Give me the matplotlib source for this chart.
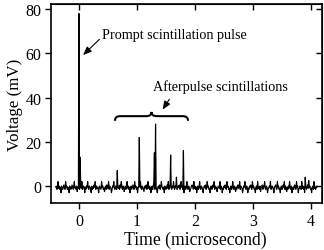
import matplotlib
matplotlib.use("Agg")
import matplotlib.pyplot as plt
import numpy as np
from matplotlib.path import Path
from matplotlib.patches import PathPatch

plt.rcParams["font.family"] = ["Liberation Serif", "DejaVu Serif"]

# sample grid of the trace (microsecond)
t_start, t_stop, n_samples = -0.4, 4.1, 451

# scope baseline offset (mV)
baseline_mv = 0.5

# baseline noise (mV), one value per sample
noise_mv = [
    -1, -0.5, -2, -1, 1.5, -1.5, -0.5, -2, -1, -3.5, -0.5, -1.5, -2, -1, 0, -1.5, -2, 1.5, -1, -0.5,
    -2, -1, -1.5, -3.5, -0.5, -1, -2, -1.5, 0, -1, -2, -0.5, 1.5, -1.5, -1, -2, -0.5, -3, -1, -1.5,
    -0.5, -2, -1, 0, -1.5, 1.5, -2, -1, -0.5, -1.5, -3.5, -1, -2, -0.5, -1, 1.5, -1.5, -2, -0.5, -1,
    -1.5, -3.5, -0.5, -2, -1, -1.5, 0, -1, 1.5, -2, -0.5, -1.5, -1, -2, -3.5, -0.5, -1, -1.5, -2, 1.5,
    -1, -0.5, -2, -1.5, -3, -1, -0.5, -2, 0, -1.5, -1, 1.5, -2, -0.5, -1, -1.5, -3.5, -2, -0.5, -1,
    1.5, -1.5, -2, -0.5, -1, -2, -3.5, -1, -1.5, -0.5, -2, 0, -1, 1.5, -1.5, -2, -0.5, -1, -3, -1.5,
    -0.5, -2, -1, 1.5, -1.5, -0.5, -2, -1, -3.5, -1.5, -0.5, -2, -1, 0, -1.5, -2, 1.5, -1, -0.5, -2,
    -1, -3.5, -1.5, -0.5, -2, -1, 1.5, -1.5, -2, -0.5, -1, -2, -3, -1, -0.5, -1.5, 0, -2, -1, 1.5,
    -1.5, -0.5, -2, -1, -3.5, -1.5, -0.5, -2, -1, 1.5, -1.5, -2, -0.5, -1, -2, -3.5, -1, -0.5, -1.5, 0,
    -2, -1, 1.5, -0.5, -1.5, -2, -1, -3.5, -0.5, -1.5, -2, -1, 0, -1.5, 1.5, -2, -0.5, -1, -3, -1.5,
    -2, -0.5, -1, 1.5, -1.5, -2, -0.5, -1, -3.5, -2, -1.5, -0.5, -1, 0, -2, -1.5, 1.5, -1, -0.5, -2,
    -1, -3.5, -1.5, -0.5, -2, -1, 1.5, -1.5, -2, -0.5, -1, -3, -2, -1.5, -0.5, 0, -1, -2, 1.5, -1.5,
    -0.5, -2, -1, -3.5, -1.5, -0.5, -2, -1, 1.5, -1.5, -2, -0.5, -1, -2, -3.5, -1.5, -0.5, -1, 0, -2,
    -1.5, 1.5, -1, -0.5, -2, -1.5, -3.5, -1, -0.5, -2, -1.5, 0, -1, 1.5, -2, -0.5, -1.5, -1, -3, -2,
    -0.5, -1, -1.5, 1.5, -2, -0.5, -1, -3.5, -1.5, -2, -0.5, -1, 0, -1.5, -2, 1.5, -1, -0.5, -2, -1.5,
    -3.5, -1, -0.5, -2, -1.5, 1.5, -1, -2, -0.5, -1.5, -3, -1, -2, -0.5, 0, -1.5, -1, 1.5, -2, -0.5,
    -1, -1.5, -3.5, -2, -0.5, -1, 1.5, -1.5, -2, -0.5, -1, -3.5, -1.5, -2, -0.5, -1, 0, -1.5, -2, 1.5,
    -1, -0.5, -2, -1.5, -3.5, -1, -0.5, -2, 1.5, -1.5, -1, -2, -0.5, -3, -1.5, -1, 0, -2, -0.5, -1,
    1.5, -1.5, -2, -0.5, -1, -3.5, -2, -1.5, -0.5, -1, 1.5, -2, -1.5, -0.5, -1, -2, -3.5, -1, -0.5, 0,
    -1.5, -2, 1.5, -1, -0.5, -2, -1.5, -3.5, -1, -0.5, -2, -1.5, 0, -1, 1.5, -2, -0.5, -1.5, -3, -1,
    -2, -0.5, -1.5, 1.5, -1, -2, -0.5, -3.5, -1.5, -1, -2, -0.5, 0, -1.5, -2, 1.5, -1, -0.5, -3.5, -2,
    -1.5, -0.5, -1, -2, 1.5, -1.5, -0.5, -2, -1, -3.5, -1.5, -0.5, -2, -1, 0, -1.5, 2, -1, -0.5, -2,
    -1.5, -3.5, -1, -0.5, -2, 1.5, -1.5, -1, -2, -0.5, -1,
]

# scintillation pulses
spike_t = [0.00, 0.02, 0.66, 1.04, 1.30, 1.32, 1.58, 1.68, 1.80, 3.90]
spike_mv = [78, 13, 7, 22, 15, 28, 14, 4, 16, 4]

x_ticks = [0, 1, 2, 3, 4]
y_ticks = [0, 20, 40, 60, 80]

time_us = np.linspace(t_start, t_stop, n_samples)
voltage = np.array(noise_mv, dtype=float) + baseline_mv
dt = (t_stop - t_start) / (n_samples - 1)
for st, sv in zip(spike_t, spike_mv):
    voltage[int(round((st - t_start) / dt))] = sv

fig = plt.figure(figsize=(3.24, 2.51), dpi=100)
ax = fig.add_axes([0.156, 0.187, 0.838, 0.793])

ax.plot(time_us, voltage, color="black", linewidth=0.85)

ax.set_xlim(-0.49, 4.19)
ax.set_ylim(-7.7, 82.3)
ax.set_xticks(x_ticks)
ax.set_yticks(y_ticks)
ax.tick_params(direction="out", length=4.5, width=1.0, labelsize=11.5)
ax.tick_params(axis="x", pad=3)
ax.tick_params(axis="y", pad=2)
for side in ax.spines.values():
    side.set_linewidth(1.2)

top = ax.secondary_xaxis("top")
top.set_xticks(x_ticks)
top.tick_params(direction="in", length=4, width=1.0, labeltop=False)
right = ax.secondary_yaxis("right")
right.set_yticks(y_ticks)
right.tick_params(direction="in", length=4, width=1.0, labelright=False)

ax.set_xlabel("Time (microsecond)", fontsize=12.7, labelpad=1, x=0.532)
ax.set_ylabel("Voltage (mV)", fontsize=12.2, labelpad=2)

ax.annotate("Prompt scintillation pulse", xy=(0.07, 59.2), xytext=(0.40, 68.7),
            fontsize=10.2, va="center", ha="left",
            arrowprops=dict(arrowstyle="-|>,head_length=0.5,head_width=0.2",
                            color="black", lw=0.8, shrinkA=0, shrinkB=0,
                            relpos=(0, 0.3)))
ax.annotate("Afterpulse scintillations", xy=(1.44, 34.5), xytext=(1.28, 45.2),
            fontsize=10.2, va="center", ha="left",
            arrowprops=dict(arrowstyle="-|>,head_length=0.5,head_width=0.2",
                            color="black", lw=0.8, shrinkA=3, shrinkB=0,
                            relpos=(0.15, 0)))

# curly brace over the afterpulses
bx0, bx1, by_end, by_flat, by_tip, bw = 0.62, 1.88, 29.5, 31.6, 33.5, 0.09
bxm = (bx0 + bx1) / 2
verts = [
    (bx0, by_end), (bx0, by_flat), (bx0 + bw, by_flat),
    (bxm - bw, by_flat), (bxm, by_flat), (bxm, by_tip),
    (bxm, by_flat), (bxm + bw, by_flat),
    (bx1 - bw, by_flat), (bx1, by_flat), (bx1, by_end),
]
codes = [
    Path.MOVETO, Path.CURVE3, Path.CURVE3,
    Path.LINETO, Path.CURVE3, Path.CURVE3,
    Path.CURVE3, Path.CURVE3,
    Path.LINETO, Path.CURVE3, Path.CURVE3,
]
ax.add_patch(PathPatch(Path(verts, codes), facecolor="none", edgecolor="black", lw=1.5))

fig.savefig("out.png", dpi=100)
